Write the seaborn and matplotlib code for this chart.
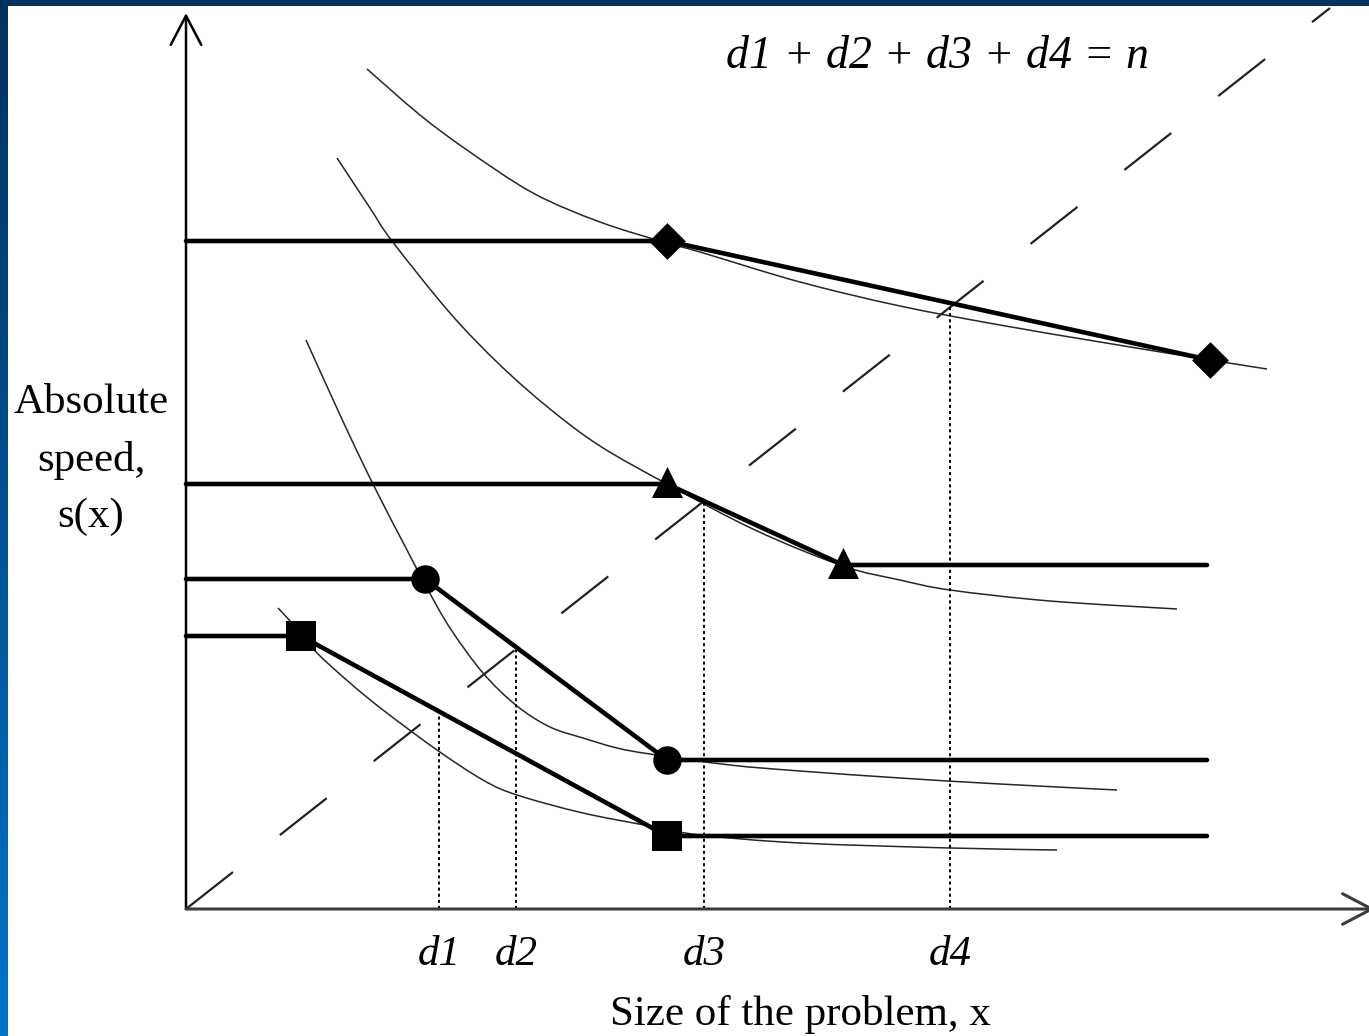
import numpy as np
import pandas as pd
import matplotlib
matplotlib.use("Agg")
import matplotlib.pyplot as plt
from matplotlib.path import Path
from matplotlib.patches import PathPatch
import seaborn as sns

# ---- data (problem size x, absolute speed s(x)) ----
# thin speed curves of the four processors
curve_diamond_x = [181, 234, 281, 347, 414, 481, 514, 614, 714, 814, 914, 1024, 1081]
curve_diamond_y = [840, 794, 759, 716, 687, 666, 657, 627, 603, 584, 567, 549, 540]

curve_triangle_x = [151, 184, 206, 264, 314, 364, 414, 481, 569, 657, 714, 764, 864, 991]
curve_triangle_y = [751, 701, 668, 596, 544, 500, 463, 425, 379, 343, 329, 319, 308, 300]

curve_circle_x = [120, 144, 169, 194, 221, 241, 264, 297, 331, 364, 397, 431, 464, 544, 614, 714, 814, 931]
curve_circle_y = [569, 516, 462, 411, 359, 321, 281, 236, 203, 182, 171, 161, 155, 144, 138, 131, 125, 119]

curve_square_x = [92, 115, 131, 164, 197, 251, 297, 331, 397, 464, 514, 614, 764, 871]
curve_square_y = [301, 276, 256, 226, 199, 159, 129, 114, 96, 83, 74, 66, 61, 59]

# piecewise-linear approximations (thick lines)
pw_diamond_x = [0, 481, 1024]
pw_diamond_y = [668, 668, 549]
pw_triangle_x = [0, 481, 657, 1021]
pw_triangle_y = [425, 425, 344, 344]
pw_circle_x = [0, 239, 481, 1021]
pw_circle_y = [330, 330, 149, 149]
pw_square_x = [0, 115, 481, 1021]
pw_square_y = [273, 273, 73, 73]

# breakpoints carrying markers
mk_diamond_x, mk_diamond_y = [481, 1024], [668, 549]
mk_triangle_x, mk_triangle_y = [481, 657], [427, 346]
mk_circle_x, mk_circle_y = [239, 481], [330, 149]
mk_square_x, mk_square_y = [115, 481], [273, 73]

# line x1 + x2 + x3 + x4 = n  (s = x / t)
diag_x = [0, 1144]
diag_y = [0, 901]

# optimal distribution d1..d4 and their speeds
d_labels = ["d1", "d2", "d3", "d4"]
d_x = [253, 330, 518, 764]
d_speed = [199, 260, 408, 602]

equation = "d1 + d2 + d3 + d4 = n"
ylabel_lines = ["Absolute", "speed,", "s(x)"]
xlabel = "Size of the problem, x"

# ---- style ----
sns.set_style("white")
plt.rcParams["font.family"] = ["Liberation Serif", "DejaVu Serif"]
plt.rcParams["text.color"] = "black"
plt.rcParams["lines.scale_dashes"] = False

fig = plt.figure(figsize=(13.69, 10.36), dpi=100)

# slide background: blue gradient frame with white canvas
bg = fig.add_axes([0, 0, 1, 1])
top = np.array([0x00, 0x33, 0x5E]) / 255
bot = np.array([0x00, 0x72, 0xCC]) / 255
t = np.linspace(0, 1, 256)[:, None]
grad = top[None, :] * (1 - t) + bot[None, :] * t
bg.imshow(grad[:, None, :], aspect="auto", extent=[0, 1, 0, 1])
bg.add_patch(plt.Rectangle((8 / 1369, 0), 1, 1 - 6 / 1036, color="white", lw=0))
bg.set_xlim(0, 1)
bg.set_ylim(0, 1)
bg.axis("off")

ax = fig.add_axes([0, 0, 1, 1])
ax.patch.set_alpha(0)
ax.set_xlim(-186, 1183)
ax.set_ylim(-127, 909)
ax.axis("off")


def smooth_path(xs, ys):
    """Cubic Bezier (Catmull-Rom) path running through every point."""
    p = np.column_stack([xs, ys]).astype(float)
    verts = [p[0]]
    codes = [Path.MOVETO]
    for i in range(len(p) - 1):
        p0 = p[i - 1] if i > 0 else p[i]
        p1, p2 = p[i], p[i + 1]
        p3 = p[i + 2] if i + 2 < len(p) else p[i + 1]
        c1 = p1 + (p2 - p0) / 6.0
        c2 = p2 - (p3 - p1) / 6.0
        verts += [c1, c2, p2]
        codes += [Path.CURVE4] * 3
    return Path(verts, codes)


# axes with arrow heads
ax.annotate("", xy=(0, 896), xytext=(0, 0), annotation_clip=False,
            arrowprops=dict(arrowstyle="->,head_length=1.05,head_width=0.55",
                            lw=1.8, color="black", shrinkA=0, shrinkB=0,
                            mutation_scale=20))
ax.annotate("", xy=(1189, 0), xytext=(0, 0), annotation_clip=False,
            arrowprops=dict(arrowstyle="->,head_length=1.05,head_width=0.55",
                            lw=2.2, color="#3c3c3c", shrinkA=0, shrinkB=0,
                            mutation_scale=20))

# dashed line through the origin
sns.lineplot(x=diag_x, y=diag_y, ax=ax, color="#222222", lw=1.6,
             linestyle=(0, (43, 43)), sort=False, estimator=None, legend=False)

# thin speed curves
for cx, cy in [(curve_diamond_x, curve_diamond_y),
               (curve_triangle_x, curve_triangle_y),
               (curve_circle_x, curve_circle_y),
               (curve_square_x, curve_square_y)]:
    ax.add_patch(PathPatch(smooth_path(cx, cy), fill=False,
                           edgecolor="#262626", lw=1.1, zorder=2))

# piecewise-linear approximations
for px, py in [(pw_diamond_x, pw_diamond_y),
               (pw_triangle_x, pw_triangle_y),
               (pw_circle_x, pw_circle_y),
               (pw_square_x, pw_square_y)]:
    sns.lineplot(x=px, y=py, ax=ax, color="black", lw=3.3,
                 sort=False, estimator=None, legend=False, zorder=3)

# dotted drops to the x axis
for dx, ds in zip(d_x, d_speed):
    sns.lineplot(x=[dx, dx], y=[0, ds], ax=ax, color="black", lw=1.4,
                 linestyle=(0, (2.2, 2.2)), sort=False, estimator=None,
                 legend=False, zorder=2)

# markers
for mx, my, m, s in [(mk_diamond_x, mk_diamond_y, "D", 350),
                     (mk_triangle_x, mk_triangle_y, "^", 500),
                     (mk_circle_x, mk_circle_y, "o", 420),
                     (mk_square_x, mk_square_y, "s", 460)]:
    sns.scatterplot(x=mx, y=my, ax=ax, marker=m, s=s, color="black",
                    edgecolor="black", linewidth=0, legend=False, zorder=4)

# texts
ax.text(751, 852, equation, fontsize=33, style="italic", color="black",
        ha="center", va="center")
for lbl, dx in zip(d_labels, d_x):
    ax.text(dx, -46, lbl, fontsize=31, style="italic", color="black",
            ha="center", va="center")
for i, line in enumerate(ylabel_lines):
    ax.text(-95, 506 - 57 * i, line, fontsize=31, color="black",
            ha="center", va="center")
ax.text(614, -106, xlabel, fontsize=31, color="black", ha="center", va="center")

fig.savefig("out.png", dpi=100)
